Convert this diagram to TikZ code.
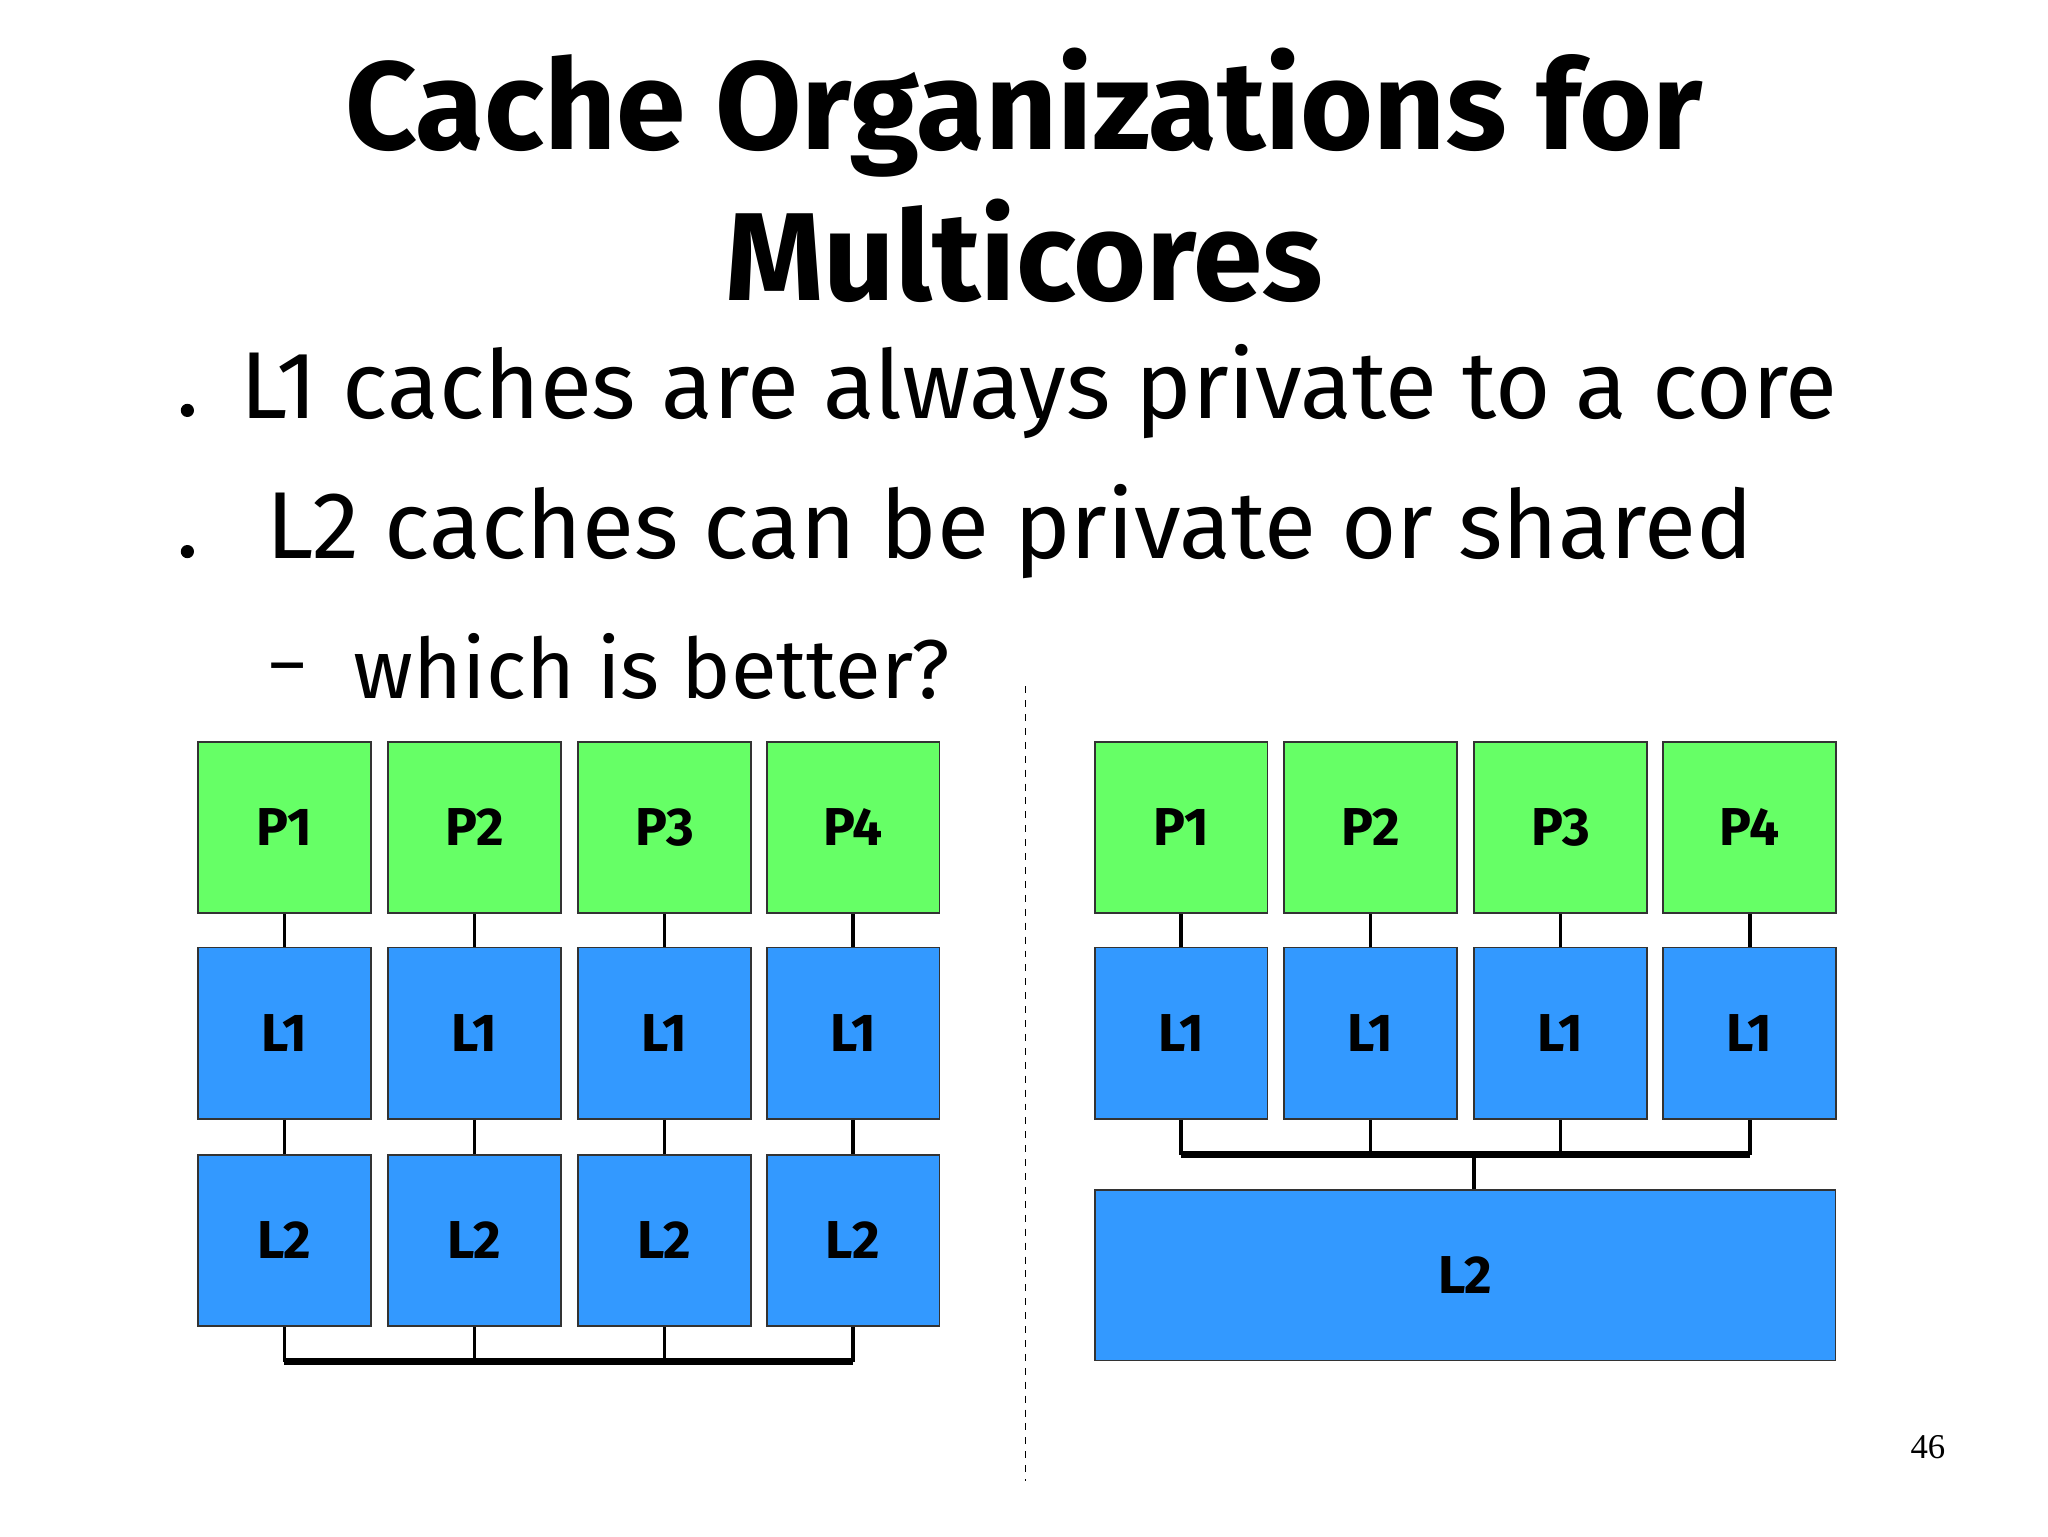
\documentclass[tikz,border=0pt]{standalone}
\usepackage{fontspec}
\setmainfont{Fira Sans}
\newfontfamily\numfont{Liberation Serif}
\definecolor{pg}{HTML}{66FF66}
\definecolor{pb}{HTML}{3399FF}
\begin{document}
\begin{tikzpicture}[x=0.02cm,y=-0.02cm,
  box/.style={draw=black!80,line width=0.8pt,minimum width=2.62cm,minimum height=2.6cm,inner sep=0pt,font=\fontsize{23}{26}\selectfont\bfseries},
  pbox/.style={box,fill=pg},
  cbox/.style={box,fill=pb},
  dot/.style={circle,fill=black,inner sep=0pt,minimum size=0.2cm},
  wire/.style={line width=1.6pt},
  bus/.style={line width=3pt}]
\useasboundingbox (0,0) rectangle (1552,1164);
\node[font=\fontsize{54}{58}\selectfont\bfseries] (t1) at (776,85) {Cache Organizations for};
\node[font=\fontsize{54}{58}\selectfont\bfseries] (t2) at (776,190) {Multicores};
\node[dot] (b1d) at (142,311) {};
\node[anchor=west,font=\fontsize{41}{45}\selectfont] (b1) at (176,297) {L1 caches are always private to a core};
\node[dot] (b2d) at (142,418) {};
\node[anchor=west,font=\fontsize{41}{45}\selectfont] (b2) at (196,403) {L2 caches can be private or shared};
\node[anchor=west,font=\fontsize{30}{34}\selectfont] (b3d) at (198,512) {–};
\node[anchor=west,font=\fontsize{36}{40}\selectfont] (b3) at (262,505) {which is better?};
\coordinate (dt) at (777,520); \coordinate (db) at (777,1122);
\draw[dashed,line width=0.6pt] (dt) -- (db);
\foreach \i/\x in {1/215.5,2/359.5,3/503.5,4/646.5}{
  \node[pbox] (lp\i) at (\x,627) {P\i};
  \node[cbox] (la\i) at (\x,783) {L1};
  \node[cbox] (lb\i) at (\x,940) {L2};
  \draw[wire] (lp\i) -- (la\i);
  \draw[wire] (la\i) -- (lb\i);
  \coordinate (lc\i) at (\x,1032);
  \draw[wire] (lb\i.south) -- (lc\i);
}
\draw[bus] (lc1) -- (lc4);
\foreach \i/\x in {1/895,2/1038.5,3/1182.5,4/1326}{
  \node[pbox] (rp\i) at (\x,627) {P\i};
  \node[cbox] (ra\i) at (\x,783) {L1};
  \draw[wire] (rp\i) -- (ra\i);
  \coordinate (rc\i) at (\x,875);
  \draw[wire] (ra\i.south) -- (rc\i);
}
\draw[bus] (rc1) -- (rc4);
\node[cbox,minimum width=11.22cm,minimum height=2.58cm] (rl2) at (1110.5,966.5) {L2};
\coordinate (rm) at (1117,875);
\draw[wire] (rm) -- (rm |- rl2.north);
\node[font=\fontsize{15}{18}\selectfont\numfont] (pn) at (1461,1097) {46};
\end{tikzpicture}
\end{document}
